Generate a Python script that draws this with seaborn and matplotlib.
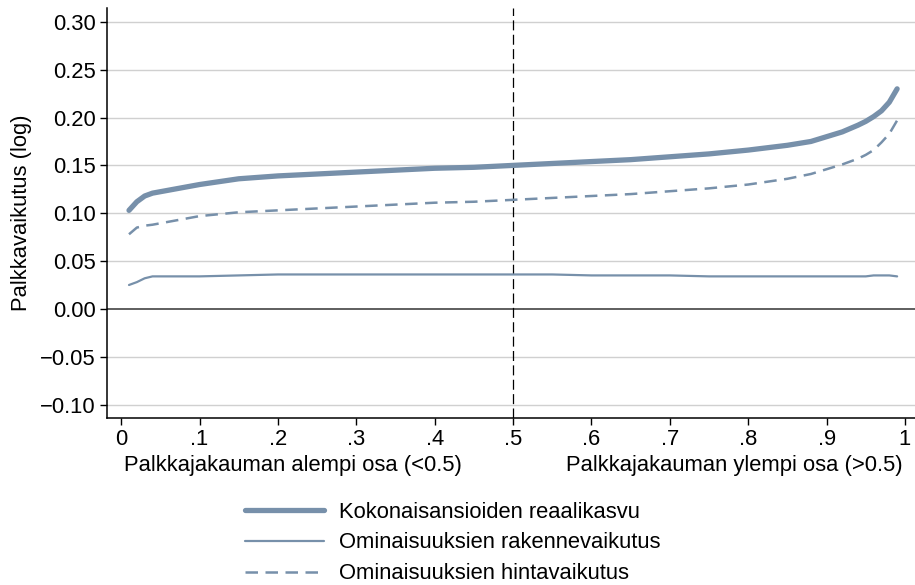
import numpy as np
import pandas as pd
import matplotlib
matplotlib.use("Agg")
import matplotlib.pyplot as plt
import seaborn as sns

# quantiles of the wage distribution
quantile = [0.01, 0.02, 0.03, 0.04, 0.06, 0.08, 0.10, 0.15, 0.20, 0.25, 0.30, 0.35, 0.40,
            0.45, 0.50, 0.55, 0.60, 0.65, 0.70, 0.75, 0.80, 0.85, 0.88, 0.90, 0.92,
            0.94, 0.95, 0.96, 0.97, 0.98, 0.99]
# total real wage growth
total = [0.103, 0.112, 0.118, 0.121, 0.124, 0.127, 0.130, 0.136, 0.139, 0.141, 0.143, 0.145, 0.147,
         0.148, 0.150, 0.152, 0.154, 0.156, 0.159, 0.162, 0.166, 0.171, 0.175, 0.180, 0.185,
         0.192, 0.196, 0.201, 0.207, 0.216, 0.230]
# structural (characteristics) effect
structure = [0.025, 0.028, 0.032, 0.034, 0.034, 0.034, 0.034, 0.035, 0.036, 0.036, 0.036, 0.036, 0.036,
             0.036, 0.036, 0.036, 0.035, 0.035, 0.035, 0.034, 0.034, 0.034, 0.034, 0.034, 0.034,
             0.034, 0.034, 0.035, 0.035, 0.035, 0.034]
# price (returns) effect
price = [0.078, 0.085, 0.087, 0.088, 0.091, 0.094, 0.097, 0.101, 0.103, 0.105, 0.107, 0.109, 0.111,
         0.112, 0.114, 0.116, 0.118, 0.120, 0.123, 0.126, 0.130, 0.136, 0.141, 0.146, 0.151,
         0.157, 0.161, 0.166, 0.174, 0.183, 0.197]

labels = ["Kokonaisansioiden reaalikasvu", "Ominaisuuksien rakennevaikutus",
          "Ominaisuuksien hintavaikutus"]
yticks = [-0.10, -0.05, 0.00, 0.05, 0.10, 0.15, 0.20, 0.25, 0.30]
xticks = [0, 0.1, 0.2, 0.3, 0.4, 0.5, 0.6, 0.7, 0.8, 0.9, 1.0]
xticklabels = ["0", ".1", ".2", ".3", ".4", ".5", ".6", ".7", ".8", ".9", "1"]

sns.set_theme(style="white")
plt.rcParams['font.family'] = ['Liberation Sans', 'DejaVu Sans']
plt.rcParams['text.color'] = 'black'
plt.rcParams['axes.labelcolor'] = 'black'
plt.rcParams['xtick.color'] = 'black'
plt.rcParams['ytick.color'] = 'black'

fs = 15.8
color = "#7790aa"
fig = plt.figure(figsize=(9.15, 5.85), dpi=100)
ax = fig.add_axes([0.117, 0.2855, 0.883, 0.7005])

for y in yticks:
    if y == 0:
        ax.axhline(0, color="#333333", lw=1.1, zorder=1)
    else:
        ax.axhline(y, color="#d0d0d0", lw=1.0, zorder=0)
ax.axvline(0.5, color="black", lw=0.9, ls=(0, (8, 3.5)), zorder=1)

sns.lineplot(x=quantile, y=total, ax=ax, color=color, lw=3.8, label=labels[0])
sns.lineplot(x=quantile, y=structure, ax=ax, color=color, lw=1.6, label=labels[1])
sns.lineplot(x=quantile, y=price, ax=ax, color=color, lw=1.8, ls=(0, (5, 3)), label=labels[2])

ax.set_xlim(-0.018, 1.0128)
ax.set_ylim(-0.114, 0.3143)
ax.set_yticks(yticks)
ax.set_yticklabels([f"{v:.2f}".replace("-", "\u2212") for v in yticks], fontsize=fs)
ax.set_xticks(xticks)
ax.set_xticklabels(xticklabels, fontsize=fs)
ax.tick_params(axis="both", direction="out", length=5, width=1, color="black",
               labelcolor="black", left=True, bottom=True, pad=3)
for s in ["top", "right"]:
    ax.spines[s].set_visible(False)
for s in ["left", "bottom"]:
    ax.spines[s].set_color("black")
    ax.spines[s].set_linewidth(1.1)

ax.set_ylabel("Palkkavaikutus (log)", fontsize=fs, labelpad=6, color="black")
ax.set_xlabel("")
fig.text(124 / 915, 1 - 466 / 585, "Palkkajakauman alempi osa (<0.5)", fontsize=fs,
         ha="left", va="center", color="black")
fig.text(903 / 915, 1 - 466 / 585, "Palkkajakauman ylempi osa (>0.5)", fontsize=fs,
         ha="right", va="center", color="black")

handles, labs = ax.get_legend_handles_labels()
ax.get_legend().remove()
leg = fig.legend(handles, labs, loc="center left", bbox_to_anchor=(225 / 915, 1 - 543 / 585),
                 frameon=False, fontsize=fs, handlelength=3.6, handletextpad=0.7,
                 labelspacing=0.45)
for t in leg.get_texts():
    t.set_color("black")

fig.savefig("out.png", dpi=100)
